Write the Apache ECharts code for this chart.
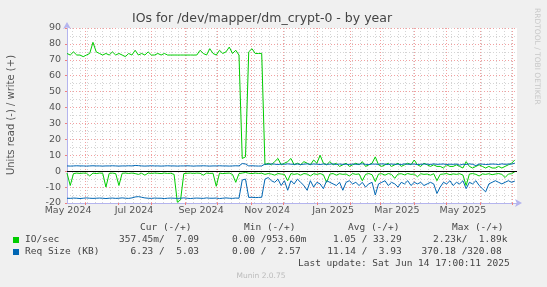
<!DOCTYPE html>
<html><head><meta charset="utf-8">
<script src="https://cdn.jsdelivr.net/npm/echarts@6/dist/echarts.min.js"></script>
<style>html,body{margin:0;padding:0;background:#f0f0f0}#c{width:547px;height:287px}</style>
</head><body><div id="c"></div>
<script>
const TITLE = 'IOs for /dev/mapper/dm_crypt-0 - by year';
const Y_NAME = 'Units read (-) / write (+)';
const SIDE_TEXT = 'RRDTOOL / TOBI OETIKER';
const LAST_UPDATE = 'Last update: Sat Jun 14 17:00:11 2025';
const MUNIN = 'Munin 2.0.75';

const START = Date.UTC(2024, 4, 15);
const STEP_DAYS = 3;
const SPAN_DAYS = 416;

const monthLabelDates = ['2024-05-16','2024-07-16','2024-09-16','2024-11-16','2025-01-16','2025-03-16','2025-05-16'];
const monthLabels = ['May 2024','Jul 2024','Sep 2024','Nov 2024','Jan 2025','Mar 2025','May 2025'];
const monthGridDates = ['2024-06-01','2024-07-01','2024-08-01','2024-09-01','2024-10-01','2024-11-01','2024-12-01',
  '2025-01-01','2025-02-01','2025-03-01','2025-04-01','2025-05-01','2025-06-01','2025-07-01'];

// IO/sec write (+)
const ioWrite = [
 74,73,75,73,73,72,73,74,81,75,
 74,73,74,73,75,73,74,73,72,74,
 73,76,73,74,73,75,73,73,74,73,
 74,73,73,73,73,73,73,73,73,73,
 73,76,74,73,77,74,73,76,74,75,
 78,74,76,73,8,9,75,77,74,74,
 74,4,5,4,6,8,4,5,6,8,
 4,5,4,6,5,4,7,5,10,5,
 4,6,4,5,3,4,5,3,4,5,
 4,6,3,4,5,9,4,3,4,5,
 3,4,5,3,4,5,4,7,4,3,
 5,4,3,4,3,3,2,4,3,3,
 4,3,2,6,3,2,3,4,3,2,
 3,2,2,3,2,3,4,5,7.09
];
// IO/sec read (-)
const ioRead = [
 -1.2,-9,-1.5,-1.2,-1.4,-1.2,-1.3,-3,-1.2,-1.5,
 -1.2,-1.3,-10,-1.4,-1.2,-1.5,-9,-1.3,-1.2,-1.4,
 -1.2,-1.5,-2,-1.3,-2.5,-1.2,-1.4,-1.2,-1.3,-1.5,
 -1.2,-1.4,-1.3,-2,-19.5,-18,-1.5,-1.3,-1.2,-1.4,
 -1.2,-1.3,-2.5,-1.2,-1.4,-1.3,-9.5,-1.2,-1.5,-1.3,
 -1.2,-2,-7,-1.5,-1.2,-0.8,-1.3,-1.5,-1.2,-1.4,
 -1.3,-2,-1.5,-1.8,-2.5,-1.5,-1.8,-2,-6,-1.5,
 -2,-1.6,-2.5,-1.5,-1.8,-3,-1.6,-2,-1.5,-2.2,
 -7,-1.8,-1.5,-2.5,-1.6,-2,-1.8,-3,-1.5,-2,
 -1.7,-6,-2,-1.5,-2.2,-6.5,-1.8,-1.6,-2.5,-1.5,
 -2,-4.5,-1.8,-1.6,-2.3,-1.5,-2,-1.8,-3.5,-1.6,
 -2,-1.8,-2.5,-1.6,-6,-2,-1.8,-1.5,-2.2,-1.7,
 -2,-1.6,-2.4,-9,-1.8,-1.5,-2,-3,-1.7,-2,
 -1.6,-2.2,-1.8,-1.5,-2,-4,-1.8,-1.6,-0.36
];
// Req Size (KB) write (+)
const reqWrite = [
 3.3,3.2,3.3,3.4,3.3,3.3,3.2,3.3,3.4,3.3,
 3.3,3.2,3.3,3.3,3.4,3.3,3.2,3.3,3.3,3.4,
 3.3,3.6,3.5,3.3,3.2,3.3,3.4,3.3,3.3,3.2,
 3.3,3.4,3.3,3.3,3.2,3.3,3.3,3.4,3.3,3.2,
 3.3,3.3,3.4,3.3,3.2,3.3,3.3,3.4,3.3,3.3,
 3.2,3.3,3.4,3.3,4.8,4.5,3.3,3.4,3.3,3.2,
 3.3,4.5,4.3,4.6,4.4,4.2,4.5,4.3,4.6,4.4,
 4.3,4.5,4.2,4.4,4.6,4.3,4.5,4.4,4.2,4.5,
 4.3,4.4,4.6,4.2,4.5,4.3,4.4,4.2,4.5,4.3,
 4.4,4.6,4.3,4.2,4.5,4.4,4.3,4.6,4.4,4.2,
 4.5,4.3,4.4,4.2,4.6,4.3,4.5,4.4,4.2,4.3,
 4.5,4.4,4.2,4.6,4.3,4.4,4.5,4.2,4.4,4.3,
 4.5,3.8,4.4,4.2,4.6,4.3,3.5,4.5,4.4,4.2,
 4.3,4.5,4.4,4.2,4.6,4.3,4.5,4.4,5.03
];
// Req Size (KB) read (-)
const reqRead = [
 -17,-17.1,-16.9,-17,-17.2,-17,-16.8,-17,-17.1,-17,
 -16.9,-17,-17.2,-17,-16.9,-17.1,-17,-16.8,-17,-17.1,
 -16.8,-16.2,-16,-16.4,-16.8,-17,-17.1,-16.9,-17,-17,
 -17.2,-17,-16.9,-17,-17.1,-17,-16.8,-17,-17.2,-17,
 -16.9,-17,-17.1,-16.8,-17,-17,-16.9,-17.2,-17,-16.8,
 -17,-17.1,-16.9,-17,-5.5,-5,-16.5,-16.4,-16.6,-16.5,
 -16.4,-5,-4,-6,-7,-5,-9,-6,-12,-6,
 -8,-5,-7,-9,-12,-6,-10,-7,-8,-11,
 -6,-7,-8,-9,-7,-12,-7,-6,-8,-7,
 -9,-7,-10,-8,-7,-15,-8,-7,-6,-9,
 -7,-8,-10,-7,-8,-6,-9,-7,-8,-7,
 -9,-8,-7,-8,-14,-10,-7,-8,-6,-9,
 -7,-8,-6,-11,-7,-8,-6,-9,-11,-13,
 -8,-7,-6,-7,-8,-7,-6,-7,-6.23
];

const legendHeaders = ['Cur (-/+)','Min (-/+)','Avg (-/+)','Max (-/+)'];
const seriesNames = ['IO/sec','Req Size (KB)'];
const ioStats = ['357.45m/  7.09','  0.00 /953.60m','  1.05 / 33.29','  2.23k/  1.89k'];
const reqStats = ['  6.23 /  5.03','  0.00 /  2.57',' 11.14 /  3.93','370.18 /320.08'];

const DAY = 86400000;
const GREEN = '#00cc00', BLUE = '#0066b3';
const toTs = s => { const p = s.split('-').map(Number); return Date.UTC(p[0], p[1]-1, p[2]); };
const END = START + SPAN_DAYS * DAY;
const times = ioWrite.map((_, i) => START + i * STEP_DAYS * DAY);
const pair = arr => arr.map((v, i) => [times[i], v]);
const labelTimes = monthLabelDates.map(toTs);
const labelMap = {}; labelTimes.forEach((t, i) => labelMap[t] = monthLabels[i]);
const gridTimes = monthGridDates.map(toTs).filter(t => t <= END);
const weekTimes = [];
for (let t = Date.UTC(2024, 4, 20); t <= END; t += 7 * DAY) weekTimes.push(t);

const chart = echarts.init(document.getElementById('c'), null, {renderer: 'canvas'});
const mono = 'DejaVu Sans Mono';
const txt = (x, y, text, opts) => ({type: 'text', x, y, silent: true,
  style: Object.assign({text, fill: '#444', font: '9.5px ' + mono, textVerticalAlign: 'middle'}, opts || {})});
const statCols = [119, 220.6, 321.6, 421.6];
const headerX = [140, 244, 348, 452];
const graphics = [
  txt(262, 19, TITLE, {font: '12.5px DejaVu Sans', textAlign: 'center', fill: '#444'}),
  {type: 'text', x: 11, y: 115, rotation: Math.PI / 2, silent: true,
   style: {text: Y_NAME, font: '10px DejaVu Sans', fill: '#555', textAlign: 'center', textVerticalAlign: 'middle'}},
  {type: 'text', x: 537, y: 8, rotation: -Math.PI / 2, silent: true,
   style: {text: SIDE_TEXT, font: '7.5px DejaVu Sans', fill: '#c8c8c8', textAlign: 'left', textVerticalAlign: 'middle'}},
  {type: 'rect', shape: {x: 13, y: 237, width: 6, height: 6}, style: {fill: GREEN}, silent: true},
  {type: 'rect', shape: {x: 13, y: 249, width: 6, height: 6}, style: {fill: BLUE}, silent: true},
  txt(25, 240, seriesNames[0]),
  txt(25, 252, seriesNames[1]),
  txt(298, 263.5, LAST_UPDATE),
  txt(261, 276, MUNIN, {font: '7.5px DejaVu Sans', fill: '#bbb', textAlign: 'center'})
];
legendHeaders.forEach((h, i) => graphics.push(txt(headerX[i], 228, h)));
ioStats.forEach((s, i) => graphics.push(txt(statCols[i], 240, s)));
reqStats.forEach((s, i) => graphics.push(txt(statCols[i], 252, s)));

const axisColor = '#b4b4ee';
const lineSeries = (name, data, color) => ({
  name, type: 'line', data: pair(data), showSymbol: false, symbol: 'none',
  lineStyle: {width: 1, color}, itemStyle: {color}, silent: true, z: 3
});

chart.setOption({
  backgroundColor: '#f0f0f0',
  animation: false,
  grid: {left: 67, right: 30, top: 28, bottom: 84, show: true, backgroundColor: '#ffffff', borderWidth: 0},
  xAxis: [{
    type: 'value', min: START, max: END,
    axisLine: {show: true, onZero: false, lineStyle: {color: axisColor}, symbol: ['none', 'arrow'], symbolSize: [6, 7], symbolOffset: [0, 5]},
    axisTick: {show: true, customValues: gridTimes, length: 2, lineStyle: {color: '#f08080'}},
    axisLabel: {customValues: labelTimes, formatter: v => labelMap[v] || '', color: '#555', fontFamily: 'DejaVu Sans', fontSize: 9.5, margin: 3, hideOverlap: false, showMinLabel: true, showMaxLabel: true},
    splitLine: {show: true, lineStyle: {color: '#f2a0a0', type: [1, 2], width: 1}}
  }, {
    type: 'value', min: START, max: END, position: 'bottom',
    axisLine: {show: false}, axisLabel: {show: false},
    axisTick: {show: false, customValues: weekTimes},
    splitLine: {show: true, lineStyle: {color: '#d4d4d4', type: [1, 2], width: 1}}
  }],
  yAxis: {
    type: 'value', min: -20, max: 90, interval: 10,
    axisLine: {show: true, lineStyle: {color: axisColor}, symbol: ['none', 'arrow'], symbolSize: [6, 7], symbolOffset: [0, 6]},
    axisTick: {show: true, length: 2, lineStyle: {color: '#f08080'}},
    axisLabel: {color: '#555', fontFamily: 'DejaVu Sans', fontSize: 9.5, margin: 6},
    splitLine: {show: true, lineStyle: {color: '#f2a0a0', type: [1, 2], width: 1}},
    minorTick: {show: false, splitNumber: 2},
    minorSplitLine: {show: true, lineStyle: {color: '#d4d4d4', type: [1, 2], width: 1}}
  },
  series: [
    lineSeries('IO/sec read', ioRead, GREEN),
    lineSeries('IO/sec write', ioWrite, GREEN),
    lineSeries('Req read', reqRead, BLUE),
    Object.assign(lineSeries('Req write', reqWrite, BLUE), {
      markLine: {silent: true, symbol: 'none', label: {show: false}, animation: false,
        lineStyle: {color: '#000', type: 'solid', width: 1}, data: [{yAxis: 0}]}
    })
  ],
  graphic: graphics
});
</script></body></html>
